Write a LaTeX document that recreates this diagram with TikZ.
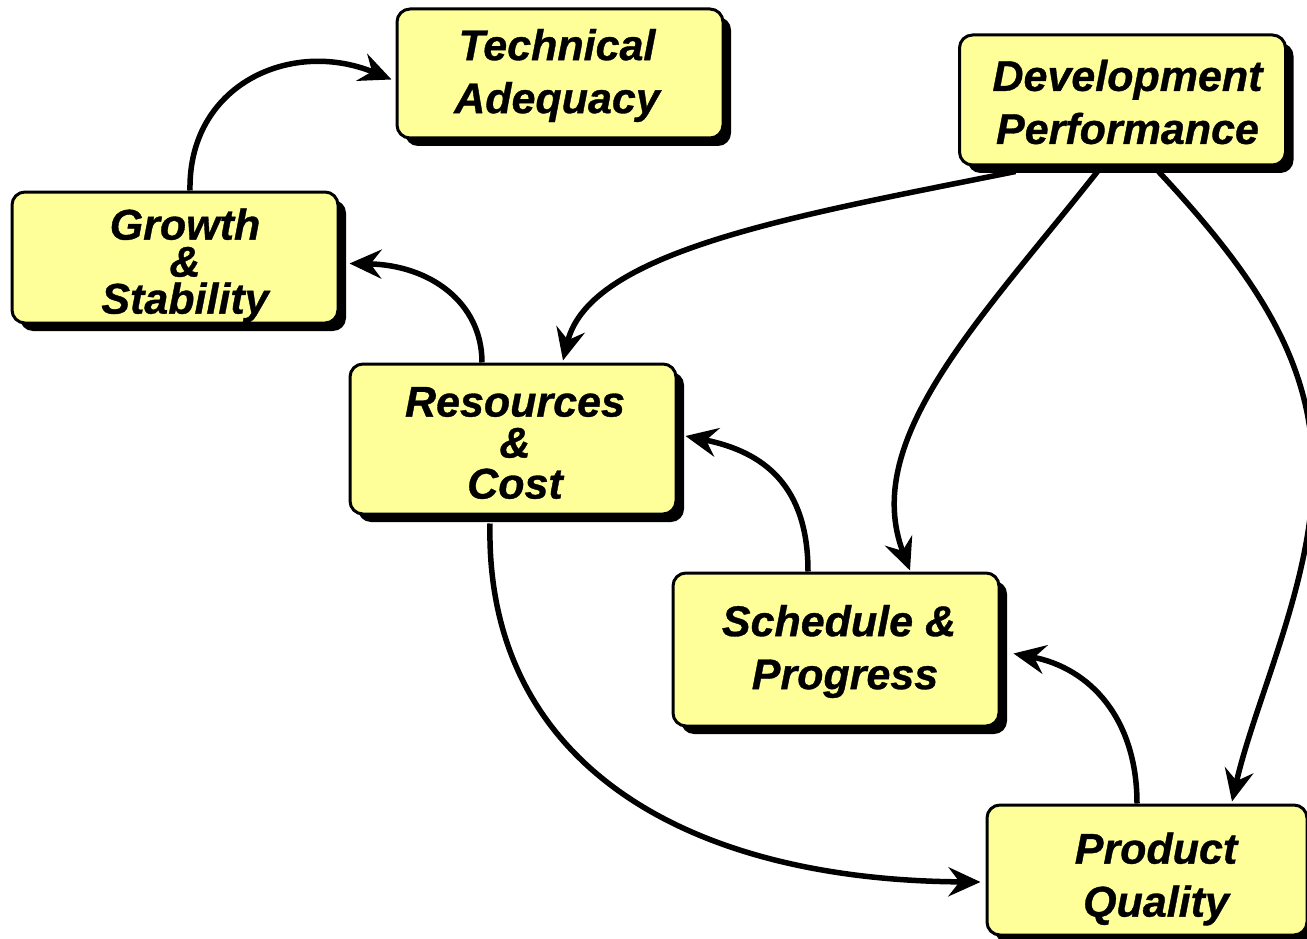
\documentclass[tikz,border=0pt]{standalone}
\usepackage{fontspec}
\setmainfont{Liberation Sans}[BoldItalicFeatures={FakeBold=0.8}]
\usetikzlibrary{arrows.meta,shadows,calc}
\definecolor{boxfill}{HTML}{FFFF99}
\tikzset{
  mbox/.style={draw=black, line width=3pt, fill=boxfill, rounded corners=13pt,
    minimum width=#1, inner sep=0pt,
    general shadow={fill=black, shadow xshift=8pt, shadow yshift=-8pt}},
  mbox/.default=326pt,
  btext/.style={inner sep=0pt, align=center,
    font=\bfseries\itshape\fontsize{43}{53}\selectfont},
  conn/.style={line width=5.5pt, -{Stealth[length=32pt,width=29pt,inset=11pt]}}
}
\begin{document}
\begin{tikzpicture}[x=1pt,y=-1pt]
\useasboundingbox (0,0) rectangle (1307,939);
\node[mbox, minimum height=129pt] (ta) at (560,73.5) {};
\node[mbox, minimum height=130pt] (dp) at (1122.5,100) {};
\node[mbox, minimum height=131pt] (gs) at (175,257.5) {};
\node[mbox, minimum height=150pt] (rc) at (513,439) {};
\node[mbox, minimum height=153pt] (sp) at (836,649.5) {};
\node[mbox, minimum height=130pt, minimum width=320pt] (pq) at (1147,870) {};

\node[btext] (tat) at ($(ta)+(-3,2)$) {Technical\\Adequacy};
\node[btext] (dpt) at ($(dp)+(5,2)$) {Development\\Performance};
\node[btext, font=\bfseries\itshape\fontsize{43}{37}\selectfont] (gst) at ($(gs)+(10,8)$) {Growth\\\&\\Stability};
\node[btext, font=\bfseries\itshape\fontsize{43}{41}\selectfont] (rct) at ($(rc)+(2,4)$) {Resources\\\&\\Cost};
\node[btext] (spt) at ($(sp)+(3,2)$) {Schedule \&\\\hspace*{12pt}Progress};
\node[btext] (pqt) at ($(pq)+(9,9)$) {Product\\Quality};

% Growth -> Technical Adequacy
\draw[conn] ($(gs.north)+(15,0)$) .. controls ($(gs.north)+(13,-105)$) and (290,38) .. ($(ta.west)+(-4,6)$);
% Resources -> Growth
\draw[conn] ($(rc.north)+(-31,0)$) .. controls ($(rc.north)+(-31,-60)$) and (430,265) .. ($(gs.east)+(10,6)$);
% Development -> Resources
\draw[conn] ($(dp.south)+(-107,5)$) .. controls (800,215) and (590,250) .. ($(rc.north)+(50,-2)$);
% Development -> Schedule
\draw[conn] ($(dp.south)+(-25,5)$) .. controls (980,320) and (860,440) .. ($(sp.north)+(74,-1)$);
% Development -> Product Quality
\draw[conn] ($(dp.south)+(36,5)$) .. controls (1255,275) and (1312,360) .. (1313,470) .. controls (1314,580) and (1255,700) .. ($(pq.north)+(85,-2)$);
% Schedule -> Resources
\draw[conn] ($(sp.north)+(-28,0)$) .. controls ($(sp.north)+(-28,-85)$) and (765,452) .. ($(rc.east)+(8,-3)$);
% Product Quality -> Schedule
\draw[conn] ($(pq.north)+(-10,0)$) .. controls ($(pq.north)+(-10,-85)$) and (1090,668) .. ($(sp.east)+(13,4)$);
% Resources -> Product Quality
\draw[conn] ($(rc.south)+(-23,8)$) .. controls (485,760) and (680,880) .. ($(pq.west)+(-5,12)$);
\end{tikzpicture}
\end{document}
